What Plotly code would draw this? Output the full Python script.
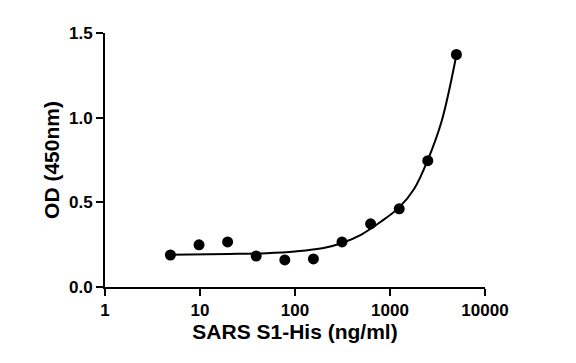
import plotly.graph_objects as go

conc = [4.88, 9.77, 19.53, 39.06, 78.13, 156.25, 312.5, 625, 1250, 2500, 5000]
od = [0.189, 0.249, 0.266, 0.183, 0.160, 0.166, 0.266, 0.373, 0.462, 0.746, 1.373]

fit_x = [4.88, 20, 50, 100, 200, 312, 500, 800, 1250, 1800, 2500, 3500, 5000]
fit_y = [0.19, 0.195, 0.20, 0.21, 0.23, 0.26, 0.31, 0.385, 0.47, 0.58, 0.75, 0.98, 1.37]

x_ticks = [1, 10, 100, 1000, 10000]
x_ticktext = ["1", "10", "100", "1000", "10000"]
y_ticks = [0.0, 0.5, 1.0, 1.5]

FAM = "Liberation Sans, Arial, sans-serif"

fig = go.Figure()
fig.add_trace(go.Scatter(x=fit_x, y=fit_y, mode="lines",
                         line=dict(color="black", width=2, shape="spline"),
                         hoverinfo="skip", showlegend=False))
fig.add_trace(go.Scatter(x=conc, y=od, mode="markers",
                         marker=dict(color="black", size=11),
                         cliponaxis=False, showlegend=False))

fig.update_layout(
    width=576, height=363,
    margin=dict(l=97, r=99, t=25, b=84),
    plot_bgcolor="white", paper_bgcolor="white",
    font=dict(family=FAM, size=17, color="black"),
    xaxis=dict(type="log", range=[0, 4], tickvals=x_ticks, ticktext=x_ticktext,
               showgrid=False, zeroline=False, showline=True, linecolor="black", linewidth=2,
               ticks="outside", ticklen=7, tickwidth=2, tickcolor="black",
               tickfont=dict(size=17, family=FAM, color="black", weight="bold"),
               title=dict(text="SARS S1-His (ng/ml)",
                          font=dict(size=21, family=FAM, color="black", weight="bold"), standoff=3)),
    yaxis=dict(range=[0, 1.5], tickvals=y_ticks, tickformat=".1f",
               showgrid=False, zeroline=False, showline=True, linecolor="black", linewidth=2,
               ticks="outside", ticklen=7, tickwidth=2, tickcolor="black",
               tickfont=dict(size=17, family=FAM, color="black", weight="bold"),
               title=dict(text="OD (450nm)",
                          font=dict(size=21, family=FAM, color="black", weight="bold"), standoff=4)),
)

fig.write_html("out.html")
